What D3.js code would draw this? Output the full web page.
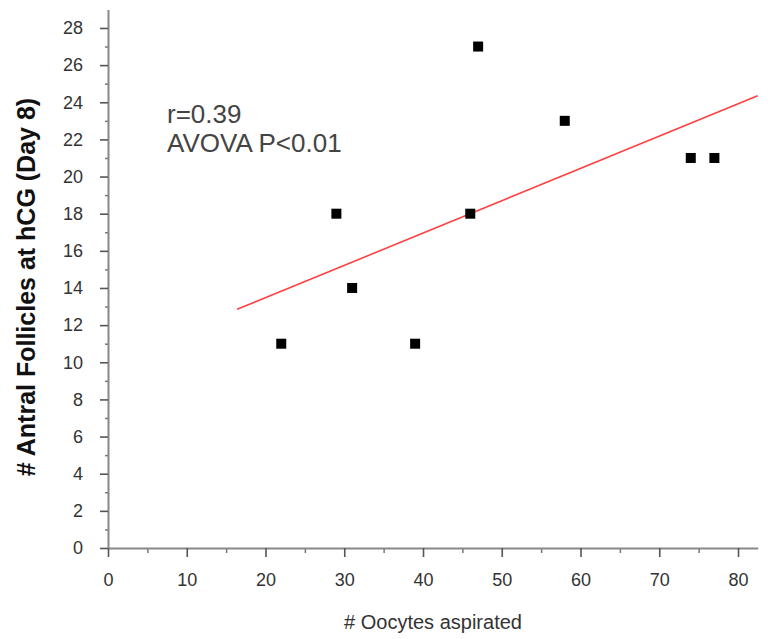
<!DOCTYPE html>
<html lang="en">
<head>
<meta charset="utf-8">
<script src="https://d3js.org/d3.v7.min.js"></script>
<style>
  body { margin: 0; background: #fff; }
  svg text { font-family: Arial, "Liberation Sans", sans-serif; }
</style>
</head>
<body>
<div id="chart"></div>
<script>
// data
var oocytes   = [22, 29, 31, 39, 46, 47, 58, 74, 77];
var follicles = [11, 18, 14, 11, 18, 27, 23, 21, 21];
// fitted line end points
var fitX = [16.4, 82.5];
var fitY = [12.85, 24.35];

var xTickValues  = [0, 10, 20, 30, 40, 50, 60, 70, 80];
var xMinorValues = [5, 15, 25, 35, 45, 55, 65, 75];
var yTickValues  = [0, 2, 4, 6, 8, 10, 12, 14, 16, 18, 20, 22, 24, 26, 28];
var yMinorValues = [1, 3, 5, 7, 9, 11, 13, 15, 17, 19, 21, 23, 25, 27];
var notes = ["r=0.39", "AVOVA P<0.01"];

var W = 772, H = 639;
var svg = d3.select("#chart").append("svg")
  .attr("width", W).attr("height", H);

var x = d3.scaleLinear().domain([0, 82.5]).range([108, 757.7]);
var y = d3.scaleLinear().domain([0, 29]).range([548, 9.4]);

// minor ticks first so the main axes sit on top
svg.append("g")
  .attr("transform", "translate(0,548)")
  .call(d3.axisBottom(x).tickValues(xMinorValues).tickSize(5).tickFormat(""))
  .call(function(g){ g.select(".domain").remove(); g.selectAll("line").attr("stroke", "#777").attr("stroke-width", 1.5); });
svg.append("g")
  .attr("transform", "translate(108,0)")
  .call(d3.axisLeft(y).tickValues(yMinorValues).tickSize(3).tickFormat(""))
  .call(function(g){ g.select(".domain").remove(); g.selectAll("line").attr("stroke", "#777").attr("stroke-width", 1.5); });

// x axis
svg.append("g")
  .attr("transform", "translate(0,548)")
  .call(d3.axisBottom(x).tickValues(xTickValues).tickSize(9).tickSizeOuter(0).tickPadding(16))
  .call(function(g){
    g.select(".domain").attr("stroke", "#888").attr("stroke-width", 2);
    g.selectAll(".tick line").attr("stroke", "#555").attr("stroke-width", 1.6);
    g.selectAll("text").attr("fill", "#333").style("font-size", "18px");
  });

// y axis
svg.append("g")
  .attr("transform", "translate(108,0)")
  .call(d3.axisLeft(y).tickValues(yTickValues).tickSize(8).tickSizeOuter(0).tickPadding(17))
  .call(function(g){
    g.select(".domain").attr("stroke", "#888").attr("stroke-width", 2);
    g.selectAll(".tick line").attr("stroke", "#555").attr("stroke-width", 1.6);
    g.selectAll("text").attr("fill", "#333").style("font-size", "18px");
  });

// regression line
svg.append("line")
  .attr("x1", x(fitX[0])).attr("y1", y(fitY[0]))
  .attr("x2", x(fitX[1])).attr("y2", y(fitY[1]))
  .attr("stroke", "#ff4040").attr("stroke-width", 1.6);

// points
var sz = 10;
svg.append("g").selectAll("rect")
  .data(oocytes)
  .enter().append("rect")
  .attr("x", function(d){ return x(d) - sz / 2; })
  .attr("y", function(d, i){ return y(follicles[i]) - sz / 2; })
  .attr("width", sz).attr("height", sz)
  .attr("fill", "#000");

// annotation
svg.append("g").selectAll("text")
  .data(notes)
  .enter().append("text")
  .attr("x", 167)
  .attr("y", function(d, i){ return 123 + i * 29; })
  .attr("fill", "#444")
  .style("font-size", "26px")
  .text(function(d){ return d; });

// axis titles
svg.append("text")
  .attr("x", 433).attr("y", 629)
  .attr("text-anchor", "middle")
  .attr("fill", "#333")
  .style("font-size", "20px")
  .text("# Oocytes aspirated");

svg.append("text")
  .attr("transform", "translate(35,287) rotate(-90)")
  .attr("text-anchor", "middle")
  .attr("fill", "#111")
  .style("font-size", "25px")
  .style("font-weight", "bold")
  .text("# Antral Follicles at hCG (Day 8)");
</script>
</body>
</html>
